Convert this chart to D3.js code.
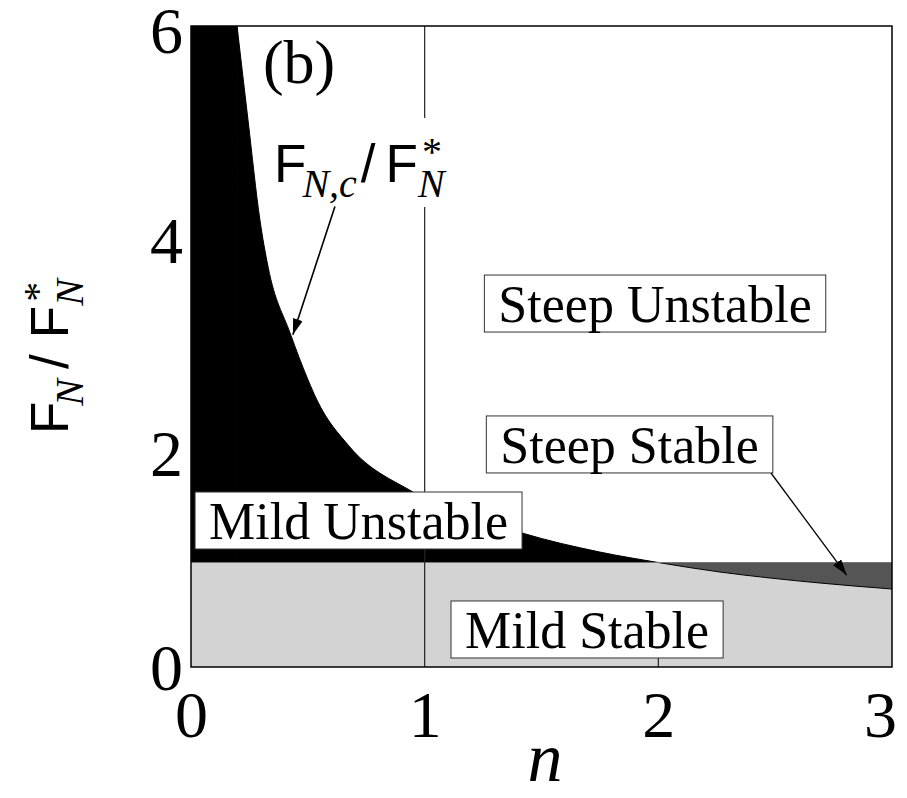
<!DOCTYPE html>
<html>
<head>
<meta charset="utf-8">
<script src="https://cdn.jsdelivr.net/npm/d3@7"></script>
<style>
  html, body { margin: 0; padding: 0; background: #fff; }
  svg { display: block; }
</style>
</head>
<body>
<svg id="chart" width="907" height="798"></svg>
<script>
// Critical load ratio F_N,c / F_N* as a function of n
const curveN     = [0.197, 0.244, 0.295, 0.330, 0.424, 0.501, 0.539, 0.676, 0.950, 1.417, 1.750, 2.000, 2.264, 2.478, 2.692, 3.000];
const curveRatio = [6.000, 5.120, 4.184, 3.744, 3.127, 2.687, 2.499, 2.069, 1.638, 1.254, 1.076, 0.978, 0.889, 0.833, 0.786, 0.730];

// Stable / unstable boundary F_N / F_N* level
const boundaryRatio = 0.978;
// Vertical reference line positions
const refLinesN = [1];

const xTicks = [0, 1, 2, 3];
const yTicks = [0, 2, 4, 6];

// Region names and where their labels sit (n, ratio of the text baseline centre)
const regionNames = ["Steep Unstable", "Steep Stable", "Mild Unstable", "Mild Stable"];
const regionN     = [1.986, 1.877, 0.717, 1.695];
const regionRatio = [3.229, 1.910, 1.198, 0.178];

const serif = "'Liberation Serif', 'Times New Roman', serif";
const sans  = "'Liberation Sans', Arial, sans-serif";

const svg = d3.select("#chart");
const plotL = 191, plotR = 892, plotT = 26, plotB = 667;

const x = d3.scaleLinear().domain([0, 3]).range([plotL, plotR]);
const y = d3.scaleLinear().domain([0, 6]).range([plotB, plotT]);

const curve = curveN.map((n, i) => ({ n, v: curveRatio[i] }));
const upper = curve.filter(d => d.n <= 2.0001);
const lower = curve.filter(d => d.n >= 1.9999);

const defs = svg.append("defs");
defs.append("clipPath").attr("id", "plotClip")
  .append("rect").attr("x", plotL).attr("y", plotT)
  .attr("width", plotR - plotL).attr("height", plotB - plotT);

const plot = svg.append("g").attr("clip-path", "url(#plotClip)");

// Mild stable: everything below the boundary
plot.append("rect")
  .attr("x", x(0)).attr("y", y(boundaryRatio))
  .attr("width", x(3) - x(0)).attr("height", y(0) - y(boundaryRatio))
  .attr("fill", "#d3d3d3");

// Mild unstable: between the boundary and the critical curve (n < 2)
plot.append("rect")
  .attr("x", x(0)).attr("y", y(6))
  .attr("width", x(curveN[0]) - x(0) + 0.5).attr("height", y(boundaryRatio) - y(6))
  .attr("fill", "#000");
plot.append("path")
  .datum(upper)
  .attr("d", d3.area().curve(d3.curveMonotoneX)
    .x(d => x(d.n)).y0(y(boundaryRatio)).y1(d => y(d.v)))
  .attr("fill", "#000");

// Steep stable: between the critical curve and the boundary (n > 2)
plot.append("path")
  .datum(lower)
  .attr("d", d3.area().curve(d3.curveMonotoneX)
    .x(d => x(d.n)).y0(y(boundaryRatio)).y1(d => y(d.v)))
  .attr("fill", "#555");

// Critical curve outline
plot.append("path")
  .datum(curve)
  .attr("d", d3.line().curve(d3.curveMonotoneX).x(d => x(d.n)).y(d => y(d.v)))
  .attr("fill", "none").attr("stroke", "#000").attr("stroke-width", 1);

// Boundary line
plot.append("line")
  .attr("x1", x(0)).attr("x2", x(3))
  .attr("y1", y(boundaryRatio)).attr("y2", y(boundaryRatio))
  .attr("stroke", "#777").attr("stroke-width", 1);

// Vertical reference lines
plot.selectAll(".ref").data(refLinesN).enter().append("line")
  .attr("x1", d => x(d)).attr("x2", d => x(d))
  .attr("y1", y(0)).attr("y2", y(6))
  .attr("stroke", "#222").attr("stroke-width", 1.2);
plot.append("line")
  .attr("x1", x(2)).attr("x2", x(2))
  .attr("y1", y(0)).attr("y2", y(0.3))
  .attr("stroke", "#222").attr("stroke-width", 1.2);

// Arrow marker
defs.append("marker")
  .attr("id", "arrow").attr("markerUnits", "userSpaceOnUse")
  .attr("viewBox", "0 0 16 10").attr("refX", 16).attr("refY", 5)
  .attr("markerWidth", 16).attr("markerHeight", 10).attr("orient", "auto")
  .append("path").attr("d", "M0,0 L16,5 L0,10 Z").attr("fill", "#000");

// Region labels in boxes
regionNames.forEach((name, i) => {
  const g = svg.append("g");
  const cx = x(regionN[i]), base = y(regionRatio[i]);
  const rect = g.append("rect");
  const t = g.append("text")
    .attr("x", cx).attr("y", base)
    .attr("text-anchor", "middle")
    .attr("font-family", serif).attr("font-size", 52)
    .attr("fill", "#000").text(name);
  const w = t.node().getComputedTextLength() + 28;
  rect.attr("x", cx - w / 2).attr("y", base - 47)
    .attr("width", w).attr("height", 57)
    .attr("fill", "#fff").attr("stroke", "#333").attr("stroke-width", 1);
});

// Arrow from "Steep Stable" to the steep stable region
svg.append("line")
  .attr("x1", x(2.482)).attr("y1", y(1.816))
  .attr("x2", x(2.806)).attr("y2", y(0.86))
  .attr("stroke", "#000").attr("stroke-width", 1.3)
  .attr("marker-end", "url(#arrow)");

// Ratio label  F_sub / F_N^*  as one text element
function ratioLabel(g, sub, gap) {
  const t = g.append("text").attr("x", 0).attr("y", 0).attr("fill", "#000");
  t.append("tspan").attr("font-family", sans).attr("font-size", 53).text("F");
  t.append("tspan").attr("font-family", serif).attr("font-style", "italic").attr("font-size", 40)
    .attr("dx", -4).attr("dy", 15).text(sub);
  t.append("tspan").attr("font-family", sans).attr("font-size", 53)
    .attr("dx", 4 + gap).attr("dy", -15).text("/");
  t.append("tspan").attr("font-family", sans).attr("font-size", 53)
    .attr("dx", 10 + gap).text("F");
  t.append("tspan").attr("font-family", serif).attr("font-size", 40)
    .attr("dx", 4).attr("dy", -17).text("*");
  t.append("tspan").attr("font-family", serif).attr("font-style", "italic").attr("font-size", 40)
    .attr("dx", -24).attr("dy", 32).text("N");
}

svg.append("rect")
  .attr("x", 272).attr("y", 118).attr("width", 176).attr("height", 89)
  .attr("fill", "#fff");
const ann = svg.append("g").attr("transform", "translate(274,182)");
ratioLabel(ann, "N,c", 0);

svg.append("line")
  .attr("x1", x(0.616)).attr("y1", y(4.31))
  .attr("x2", x(0.436)).attr("y2", y(3.11))
  .attr("stroke", "#000").attr("stroke-width", 1.6)
  .attr("marker-end", "url(#arrow)");

// Panel tag
svg.append("text")
  .attr("x", x(0.308)).attr("y", y(5.467))
  .attr("font-family", serif).attr("font-size", 62).text("(b)");

// Frame
svg.append("rect")
  .attr("x", plotL).attr("y", plotT).attr("width", plotR - plotL).attr("height", plotB - plotT)
  .attr("fill", "none").attr("stroke", "#000").attr("stroke-width", 1.5);

// Axes (labels only, no tick marks)
const xAxis = svg.append("g").attr("transform", `translate(0,${plotB})`)
  .call(d3.axisBottom(x).tickValues(xTicks).tickFormat(d3.format("d")).tickSize(0).tickPadding(0));
xAxis.select(".domain").remove();
xAxis.selectAll("text")
  .attr("font-family", serif).attr("font-size", 66).attr("fill", "#000")
  .attr("dy", null).attr("y", 70)
  .attr("dx", d => d === 3 ? -12 : 0);

const yAxis = svg.append("g").attr("transform", `translate(${plotL},0)`)
  .call(d3.axisLeft(y).tickValues(yTicks).tickFormat(d3.format("d")).tickSize(0).tickPadding(8));
yAxis.select(".domain").remove();
yAxis.selectAll("text")
  .attr("font-family", serif).attr("font-size", 66).attr("fill", "#000")
  .attr("dy", d => d === 6 ? "0.4em" : "0.34em");

// Axis titles
svg.append("text")
  .attr("x", 545).attr("y", 781)
  .attr("text-anchor", "middle")
  .attr("font-family", serif).attr("font-style", "italic").attr("font-size", 70)
  .text("n");

const yTitle = svg.append("g").attr("transform", "translate(68,434) rotate(-90)");
ratioLabel(yTitle, "N", 6);
</script>
</body>
</html>
